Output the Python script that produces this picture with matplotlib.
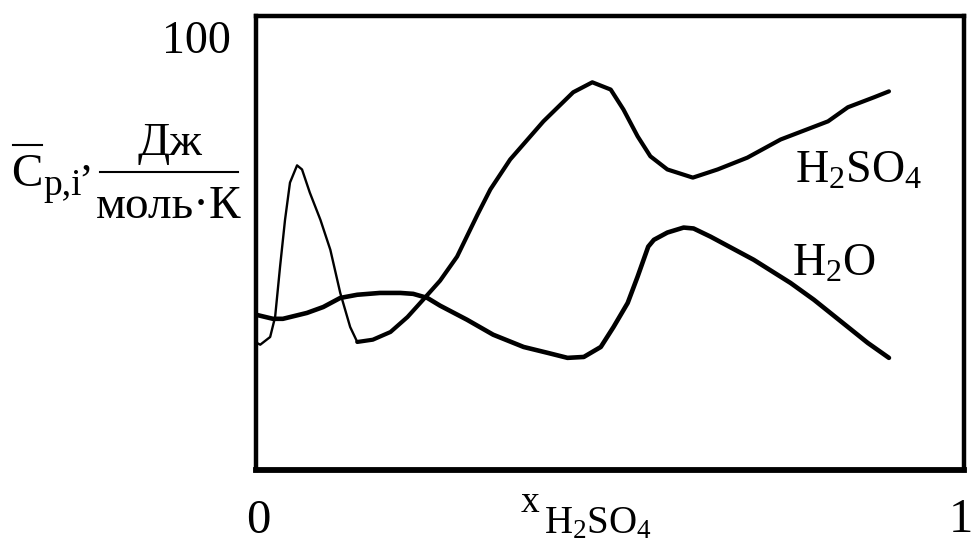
import matplotlib
matplotlib.use('Agg')
import matplotlib.pyplot as plt
from matplotlib.lines import Line2D

# mole fraction of H2SO4
x_h2so4 = [0.001, 0.006, 0.020, 0.027, 0.034, 0.041, 0.048, 0.058, 0.065, 0.076,
           0.091, 0.105, 0.119, 0.133, 0.143, 0.165, 0.190, 0.214, 0.236, 0.260,
           0.284, 0.313, 0.331, 0.359, 0.406, 0.448, 0.475, 0.501, 0.519, 0.539,
           0.557, 0.581, 0.617, 0.652, 0.694, 0.741, 0.808, 0.836, 0.873, 0.894]
cp_h2so4 = [28.0, 27.6, 29.3, 33.7, 44.8, 55.1, 63.3, 67.1, 66.2, 61.1,
            55.1, 48.5, 39.0, 31.5, 28.2, 28.7, 30.4, 33.7, 37.5, 41.7,
            47.0, 56.3, 61.8, 68.4, 76.8, 83.2, 85.4, 83.8, 79.4, 73.5,
            69.1, 66.2, 64.4, 66.2, 68.8, 72.8, 76.8, 79.9, 82.1, 83.4]

x_h2o = [0.000, 0.024, 0.038, 0.072, 0.095, 0.119, 0.143, 0.175, 0.204, 0.222,
         0.242, 0.260, 0.298, 0.335, 0.378, 0.412, 0.440, 0.463, 0.487, 0.505,
         0.525, 0.539, 0.554, 0.562, 0.581, 0.604, 0.618, 0.642, 0.703, 0.755,
         0.788, 0.836, 0.864, 0.894]
cp_h2o = [34.2, 33.3, 33.3, 34.6, 35.9, 37.9, 38.6, 39.0, 39.0, 38.8,
          37.9, 36.2, 33.1, 29.8, 27.1, 25.8, 24.7, 24.9, 27.1, 31.5,
          36.8, 42.6, 49.2, 50.7, 52.3, 53.4, 53.2, 51.4, 46.3, 41.2,
          37.5, 31.5, 28.0, 24.7]

plt.rcParams['font.family'] = 'Liberation Serif'
plt.rcParams['mathtext.fontset'] = 'custom'
plt.rcParams['mathtext.rm'] = 'Liberation Serif'
plt.rcParams['mathtext.it'] = 'Liberation Serif:italic'

W, H = 972, 552
fig = plt.figure(figsize=(W / 100, H / 100), dpi=100)


def px(x, y):
    # pixel position (from top left) -> figure fraction
    return x / W, 1 - y / H


ax = fig.add_axes([256 / W, (H - 470) / H, (964 - 256) / W, (470 - 16) / H])
ax.set_xlim(0, 1)
ax.set_ylim(0, 100)
ax.set_xticks([])
ax.set_yticks([])
for side in ['top', 'left', 'right']:
    ax.spines[side].set_linewidth(3.2)
ax.spines['bottom'].set_linewidth(4.2)

# the narrow peak part of the H2SO4 curve is drawn thinner
k = 14
ax.plot(x_h2so4[:k + 1], cp_h2so4[:k + 1], color='black', lw=1.7,
        solid_joinstyle='round', solid_capstyle='round')
ax.plot(x_h2so4[k:], cp_h2so4[k:], color='black', lw=3.0,
        solid_joinstyle='round', solid_capstyle='round')
ax.plot(x_h2o, cp_h2o, color='black', lw=3.3,
        solid_joinstyle='round', solid_capstyle='round')

fig.text(*px(795, 183), r'$\mathrm{H_2SO_4}$', fontsize=33, va='baseline')
fig.text(*px(792, 276), r'$\mathrm{H_2O}$', fontsize=33, va='baseline')

# axis numbers
fig.text(*px(231, 53), '100', fontsize=33, ha='right', va='baseline')
fig.text(*px(258, 533), '0', fontsize=35, ha='center', va='baseline')
fig.text(*px(961, 532), '1', fontsize=35, ha='center', va='baseline')

# x label
fig.text(*px(521, 512), 'x', fontsize=27, va='baseline')
fig.text(*px(544, 533), r'$\mathrm{H_2SO_4}$', fontsize=28, va='baseline')

# y label: C-bar p,i , Дж / (моль·К)
fig.text(*px(11, 186), 'C', fontsize=34, va='baseline')
fig.add_artist(Line2D([13 / W, 42 / W], [1 - 145 / H, 1 - 145 / H],
                      color='black', lw=1.5))
fig.text(*px(43, 195), 'p,i', fontsize=27, va='baseline')
fig.text(*px(80, 170), ',', fontsize=32, va='baseline')
fig.text(*px(170, 155), 'Дж', fontsize=34, ha='center', va='baseline')
fig.add_artist(Line2D([100 / W, 238 / W], [1 - 172 / H, 1 - 172 / H],
                      color='black', lw=1.5))
fig.text(*px(169, 218), 'моль·К', fontsize=34, ha='center', va='baseline')

fig.savefig('out.png', dpi=100)
